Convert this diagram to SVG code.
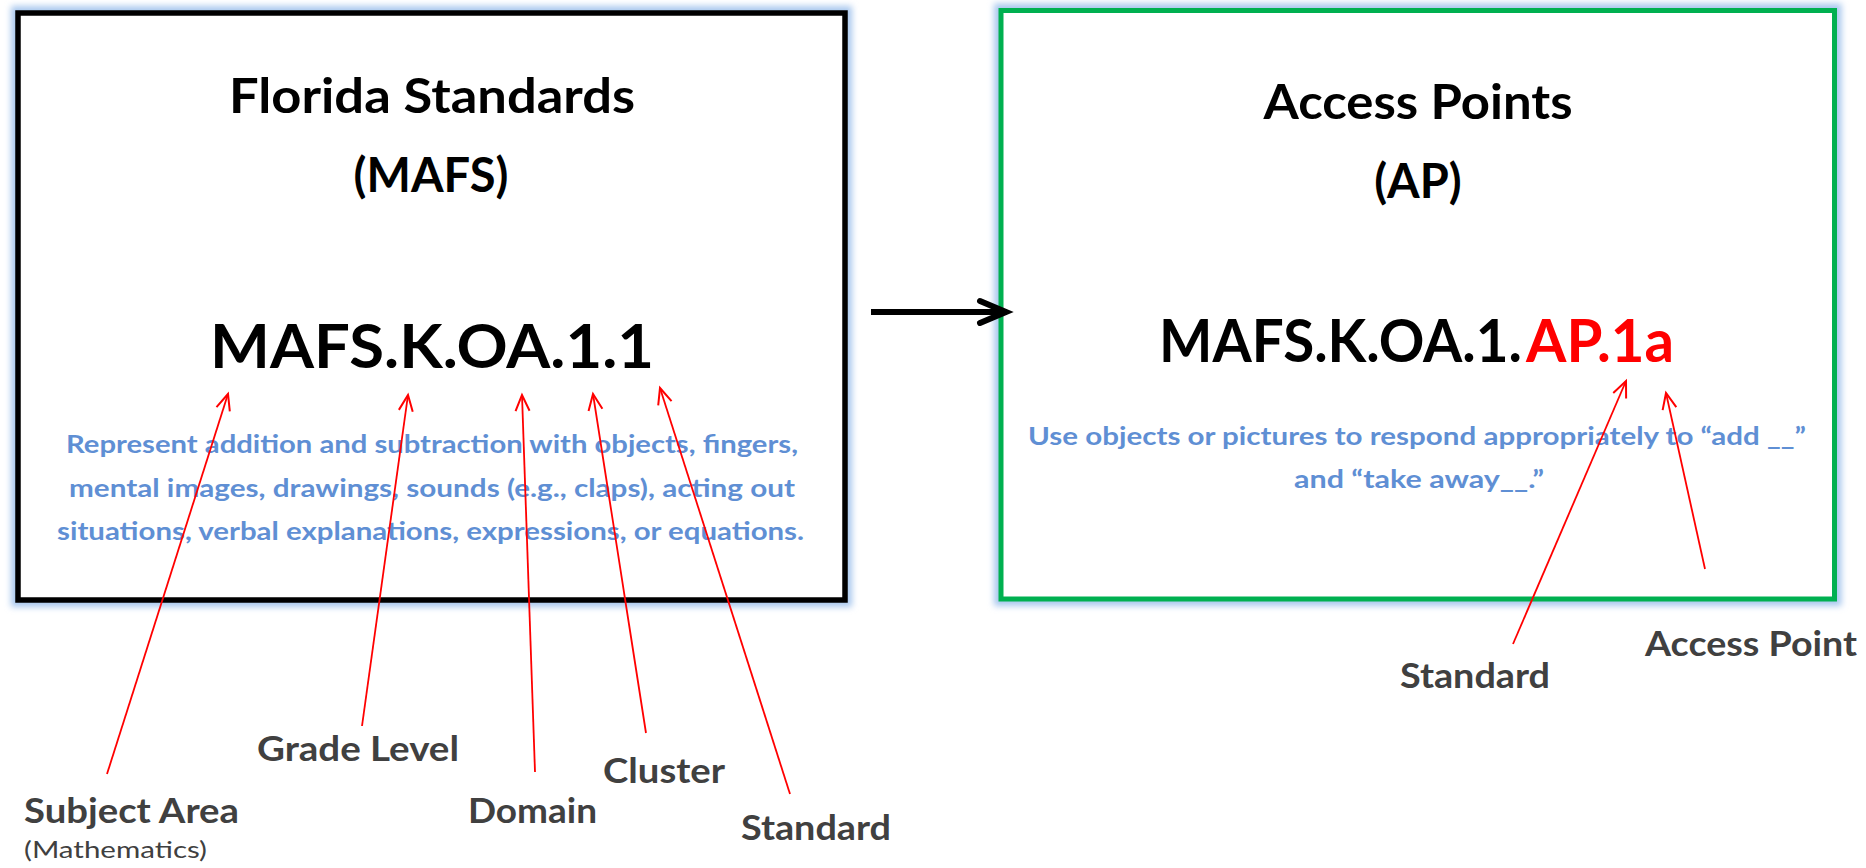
<svg xmlns="http://www.w3.org/2000/svg" width="1866" height="868" viewBox="0 0 1866 868">
<style>
.title{font-family:Lato,"Open Sans",sans-serif;font-weight:bold;font-size:47px;fill:#000;text-anchor:middle}
.code{font-family:Lato,"Open Sans",sans-serif;font-weight:bold;font-size:62px;fill:#000}
.code2{font-family:Lato,"Open Sans",sans-serif;font-weight:bold;font-size:59px;fill:#000}
.codered{fill:#FF0000}
.desc{font-family:Lato,"Open Sans",sans-serif;font-weight:bold;font-size:25px;fill:#5F8FD4}
.lbl{font-family:Lato,"Open Sans",sans-serif;font-weight:bold;font-size:35px;fill:#404040}
.sub{font-family:Lato,"Open Sans",sans-serif;font-size:24px;fill:#404040}
.glow{fill:none;stroke:#A9C8EE;stroke-width:14;filter:url(#blur)}
.red{stroke:#FF0000;stroke-width:1.8;fill:none;marker-end:url(#rh)}
</style>
<defs>
<filter id="blur" x="-5%" y="-5%" width="110%" height="110%"><feGaussianBlur stdDeviation="3"/></filter>
<marker id="rh" markerUnits="userSpaceOnUse" markerWidth="24" markerHeight="24" refX="17" refY="8" orient="auto" viewBox="0 0 24 16">
<path d="M1,1 L17,8 L1,15" fill="none" stroke="#FF0000" stroke-width="2"/>
</marker>
<marker id="bh" markerUnits="userSpaceOnUse" markerWidth="40" markerHeight="40" refX="30" refY="14" orient="auto" viewBox="0 0 40 28">
<path d="M4,3 L30,14 L4,25" fill="none" stroke="#000" stroke-width="6" stroke-linecap="round" stroke-linejoin="miter"/>
</marker>
</defs>
<rect width="1866" height="868" fill="#fff"/>
<g id="mafs-box">
<rect class="glow" x="18" y="13" width="827" height="587"/>
<rect x="18" y="13" width="827" height="587" fill="#fff" stroke="#000" stroke-width="5.5"/>
<text class="title" x="432" y="113" textLength="406" lengthAdjust="spacingAndGlyphs">Florida Standards</text>
<text class="title" x="431" y="192">(MAFS)</text>
<text class="code" x="210" y="368" textLength="444" lengthAdjust="spacingAndGlyphs">MAFS.K.OA.1.1</text>
<text class="desc" x="66" y="453" textLength="732" lengthAdjust="spacingAndGlyphs">Represent addition and subtraction with objects, fingers,</text>
<text class="desc" x="69" y="497" textLength="726" lengthAdjust="spacingAndGlyphs">mental images, drawings, sounds (e.g., claps), acting out</text>
<text class="desc" x="57" y="540" textLength="747" lengthAdjust="spacingAndGlyphs">situations, verbal explanations, expressions, or equations.</text>
</g>
<g id="ap-box">
<rect class="glow" x="1001" y="10.5" width="833.5" height="588.5"/>
<rect x="1001" y="10.5" width="833.5" height="588.5" fill="#fff" stroke="#00B050" stroke-width="5"/>
<text class="title" x="1418" y="119" textLength="309" lengthAdjust="spacingAndGlyphs">Access Points</text>
<text class="title" x="1418" y="198">(AP)</text>
<text class="code2" x="1159" y="362" textLength="363" lengthAdjust="spacingAndGlyphs">MAFS.K.OA.1.</text>
<text class="code2 codered" x="1526" y="362" textLength="148" lengthAdjust="spacingAndGlyphs">AP.1a</text>
<text class="desc" x="1028" y="445" textLength="778" lengthAdjust="spacingAndGlyphs">Use objects or pictures to respond appropriately to “add __”</text>
<text class="desc" x="1294" y="488" textLength="250" lengthAdjust="spacingAndGlyphs">and “take away__.”</text>
</g>
<g id="labels">
<text class="lbl" x="24" y="823" textLength="215" lengthAdjust="spacingAndGlyphs">Subject Area</text>
<text class="sub" x="24" y="858" textLength="183" lengthAdjust="spacingAndGlyphs">(Mathematics)</text>
<text class="lbl" x="257" y="761" textLength="202" lengthAdjust="spacingAndGlyphs">Grade Level</text>
<text class="lbl" x="468" y="823" textLength="129" lengthAdjust="spacingAndGlyphs">Domain</text>
<text class="lbl" x="603" y="783" textLength="122" lengthAdjust="spacingAndGlyphs">Cluster</text>
<text class="lbl" x="741" y="840" textLength="150" lengthAdjust="spacingAndGlyphs">Standard</text>
<text class="lbl" x="1400" y="688" textLength="150" lengthAdjust="spacingAndGlyphs">Standard</text>
<text class="lbl" x="1645" y="656" textLength="212" lengthAdjust="spacingAndGlyphs">Access Point</text>
</g>
<g id="connectors">
<line x1="871" y1="312" x2="1006" y2="312" stroke="#000" stroke-width="6" marker-end="url(#bh)"/>
<line class="red" x1="107" y1="774" x2="228" y2="394"/>
<line class="red" x1="362" y1="726" x2="408" y2="395"/>
<line class="red" x1="535" y1="772" x2="522" y2="395"/>
<line class="red" x1="646" y1="733" x2="593" y2="394"/>
<line class="red" x1="790" y1="794" x2="660" y2="388"/>
<line class="red" x1="1513" y1="644" x2="1626" y2="381"/>
<line class="red" x1="1705" y1="569" x2="1666" y2="393"/>
</g>
</svg>
